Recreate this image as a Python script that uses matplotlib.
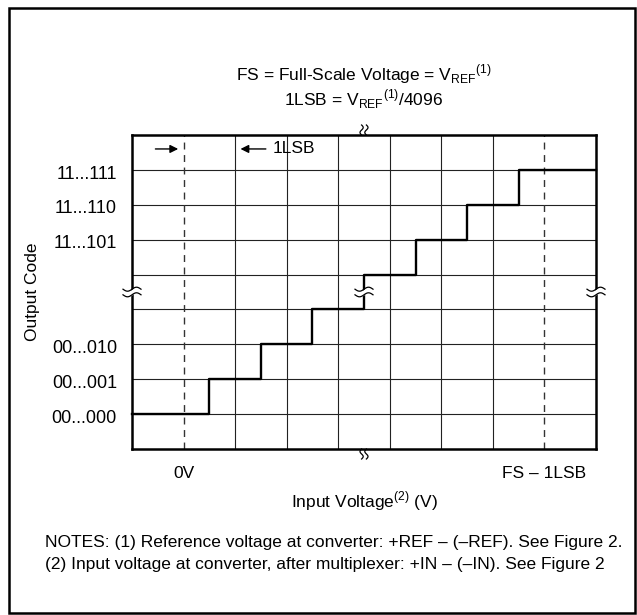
import numpy as np
import matplotlib
matplotlib.use('Agg')
from matplotlib import pyplot as plt
from matplotlib.patches import Rectangle

plt.rcParams['font.family'] = ['Liberation Sans', 'DejaVu Sans']
plt.rcParams['mathtext.fontset'] = 'custom'
plt.rcParams['mathtext.rm'] = 'Liberation Sans'

# output code levels (y) and their labels
code_levels = [1, 2, 3, 6, 7, 8]
code_labels = ['00...000', '00...001', '00...010', '11...101', '11...110', '11...111']

# transfer function: code steps up at these input positions (in LSB units)
step_x = [0, 1.5, 2.5, 3.5, 4.5, 5.5, 6.5, 7.5, 9]
step_y = [1, 2, 3, 4, 5, 6, 7, 8, 8]

# dashed markers for 0V and FS - 1LSB
marker_x = [1, 8]
marker_labels = ['0V', 'FS \u2013 1LSB']

n_cols = 9
n_rows = 9
break_pos = 4.5

W, H = 637, 615
fig = plt.figure(figsize=(W / 100, H / 100), dpi=100)

# outer frame of the figure
fig.patches.append(Rectangle((9 / W, 1 - 613 / H), 626 / W, 605 / H, transform=fig.transFigure,
                             fill=False, lw=1.8, ec='black'))

ax_l, ax_r, ax_t, ax_b = 132, 596, 135, 449
ax = fig.add_axes([ax_l / W, 1 - ax_b / H, (ax_r - ax_l) / W, (ax_b - ax_t) / H])
ax.set_xlim(0, n_cols)
ax.set_ylim(0, n_rows)

for xv in range(2, 8):
    ax.axvline(xv, color='#222222', lw=0.8)
for yv in range(1, n_rows):
    ax.axhline(yv, color='#222222', lw=0.8)
for xv in marker_x:
    ax.axvline(xv, color='#333333', lw=1.0, ls=(0, (5, 4)))

ax.step(step_x, step_y, where='post', color='black', lw=1.7, clip_on=False, zorder=3)

for s in ax.spines.values():
    s.set_linewidth(1.8)
ax.set_xticks([])
ax.set_yticks([])

# pixel -> data scale
px_x = n_cols / (ax_r - ax_l)
px_y = n_rows / (ax_b - ax_t)


def brk_h(xc, yc):
    # "≈" break on a vertical line
    t = np.linspace(-1, 1, 30)
    xs = xc + t * 9 * px_x
    for off in (-2.8, 2.8):
        ys = yc + (off + 2.0 * np.sin(np.pi * t)) * px_y
        ax.plot(xs, ys, color='black', lw=0.9, clip_on=False, zorder=5)
    ax.fill_between(xs, yc + (-2.8 + 2.0 * np.sin(np.pi * t)) * px_y,
                    yc + (2.8 + 2.0 * np.sin(np.pi * t)) * px_y,
                    color='white', lw=0, clip_on=False, zorder=4)


def brk_v(xc, y0, direction):
    # wavy break marks sitting on a horizontal spine
    t = np.linspace(0, 1, 30)
    ys = y0 + direction * t * 10 * px_y
    for off in (-2.4, 2.4):
        xs = xc + (off - 1.6 * np.sin(2 * np.pi * t)) * px_x
        ax.plot(xs, ys, color='black', lw=0.9, clip_on=False, zorder=5)


brk_h(0, break_pos)
brk_h(n_cols, break_pos)
brk_h(break_pos, break_pos)
brk_v(break_pos, n_rows, 1)
brk_v(break_pos, 0, -1)

fs = 12.5
for yv, lab in zip(code_levels, code_labels):
    ax.text(-15 * px_x, yv - 0.12, lab, ha='right', va='center', fontsize=13)
ax.text(-99 * px_x, break_pos, 'Output Code', rotation=90, ha='center', va='center', fontsize=fs)

for xv, lab in zip(marker_x, marker_labels):
    ax.text(xv, -24 * px_y, lab, ha='center', va='center', fontsize=fs)
ax.text(n_cols / 2, -52 * px_y, r'Input Voltage$^{\mathregular{(2)}}$ (V)', ha='center', va='center', fontsize=fs)

# 1LSB arrows in top-left cell
ax.annotate('', xy=(0.95, 8.6), xytext=(0.4, 8.6),
            arrowprops=dict(arrowstyle='-|>', color='black', lw=1.0, mutation_scale=12))
ax.annotate('', xy=(2.05, 8.6), xytext=(2.65, 8.6),
            arrowprops=dict(arrowstyle='-|>', color='black', lw=1.0, mutation_scale=12))
ax.text(2.72, 8.6, '1LSB', ha='left', va='center', fontsize=fs)

ax.text(n_cols / 2, n_rows + 61 * px_y, r'FS = Full-Scale Voltage = V$_{\mathregular{REF}}$$^{\mathregular{(1)}}$',
        ha='center', va='center', fontsize=fs)
ax.text(n_cols / 2, n_rows + 36 * px_y, r'1LSB = V$_{\mathregular{REF}}$$^{\mathregular{(1)}}$/4096',
        ha='center', va='center', fontsize=fs)

fig.text(45 / W, 1 - 543 / H, 'NOTES: (1) Reference voltage at converter: +REF \u2013 (\u2013REF). See Figure 2.',
         ha='left', va='center', fontsize=fs)
fig.text(45 / W, 1 - 564 / H, '(2) Input voltage at converter, after multiplexer: +IN \u2013 (\u2013IN). See Figure 2',
         ha='left', va='center', fontsize=fs)

fig.savefig('out.png', dpi=100)
